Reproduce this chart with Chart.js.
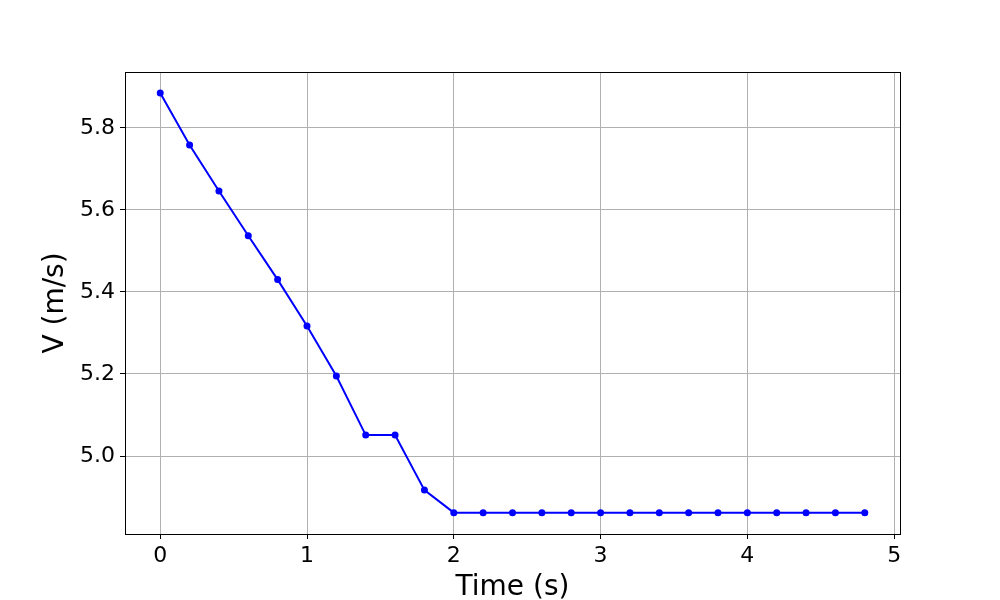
<!DOCTYPE html>
<html>
<head>
<meta charset="utf-8">
<script src="https://cdn.jsdelivr.net/npm/chart.js@4"></script>
<style>
  html, body { margin: 0; padding: 0; background: #fff; }
  #wrap { width: 1000px; height: 600px; }
</style>
</head>
<body>
<div id="wrap"><canvas id="chart" width="1000" height="600"></canvas></div>
<script>
// --- Data ---
const timeS = [0, 0.2, 0.4, 0.6, 0.8, 1.0, 1.2, 1.4, 1.6, 1.8,
  2.0, 2.2, 2.4, 2.6, 2.8, 3.0, 3.2, 3.4, 3.6, 3.8, 4.0, 4.2, 4.4, 4.6, 4.8];
const velocity = [5.885, 5.758, 5.646, 5.537, 5.430, 5.317, 5.195, 5.051, 5.051, 4.917,
  4.862, 4.862, 4.862, 4.862, 4.862, 4.862, 4.862, 4.862, 4.862, 4.862, 4.862, 4.862, 4.862, 4.862, 4.862];
const xTicks = [0, 1, 2, 3, 4, 5];
const yTicks = [5.0, 5.2, 5.4, 5.6, 5.8];

const FONT = 'DejaVu Sans';
const GRID = '#b0b0b0';

// frame around the plot area, like matplotlib's spines
const frame = {
  id: 'frame',
  afterDraw(chart) {
    const { ctx, chartArea: a } = chart;
    ctx.save();
    ctx.strokeStyle = '#000';
    ctx.lineWidth = 1;
    ctx.strokeRect(Math.round(a.left) + 0.5, Math.round(a.top) + 0.5,
      Math.round(a.right - a.left), Math.round(a.bottom - a.top));
    ctx.restore();
  },
};

new Chart(document.getElementById('chart'), {
  type: 'line',
  data: {
    datasets: [{
      data: timeS.map((t, i) => ({ x: t, y: velocity[i] })),
      borderColor: '#0000ff',
      backgroundColor: '#0000ff',
      borderWidth: 2,
      pointRadius: 3.5,
      pointHoverRadius: 3.5,
      pointBorderWidth: 0,
      tension: 0,
    }],
  },
  options: {
    responsive: false,
    animation: false,
    layout: { padding: { top: 72, right: 100, left: 0, bottom: 0 } },
    plugins: { legend: { display: false }, tooltip: { enabled: false } },
    scales: {
      x: {
        type: 'linear',
        min: -0.24,
        max: 5.04,
        afterBuildTicks: (s) => { s.ticks = xTicks.map((v) => ({ value: v })); },
        afterFit: (s) => { s.height = 66; },
        grid: { color: GRID, lineWidth: 1, tickColor: '#000', tickLength: 5 },
        border: { display: true, color: '#000', width: 1 },
        ticks: {
          color: '#000', padding: 4, maxRotation: 0,
          font: { family: FONT, size: 22 },
          callback: (v) => String(v),
        },
        title: {
          display: true, text: 'Time (s)', color: '#000',
          font: { family: FONT, size: 28 }, padding: { top: 0, bottom: -5 },
        },
      },
      y: {
        min: 4.81,
        max: 5.936,
        afterBuildTicks: (s) => { s.ticks = yTicks.map((v) => ({ value: v })); },
        afterFit: (s) => { s.width = 125; },
        grid: { color: GRID, lineWidth: 1, tickColor: '#000', tickLength: 5 },
        border: { display: true, color: '#000', width: 1 },
        ticks: {
          color: '#000', padding: 5,
          font: { family: FONT, size: 22 },
          callback: (v) => v.toFixed(1),
        },
        title: {
          display: true, text: 'V (m/s)', color: '#000',
          font: { family: FONT, size: 28 }, padding: { top: 39, bottom: 0 },
        },
      },
    },
  },
  plugins: [frame],
});
</script>
</body>
</html>
